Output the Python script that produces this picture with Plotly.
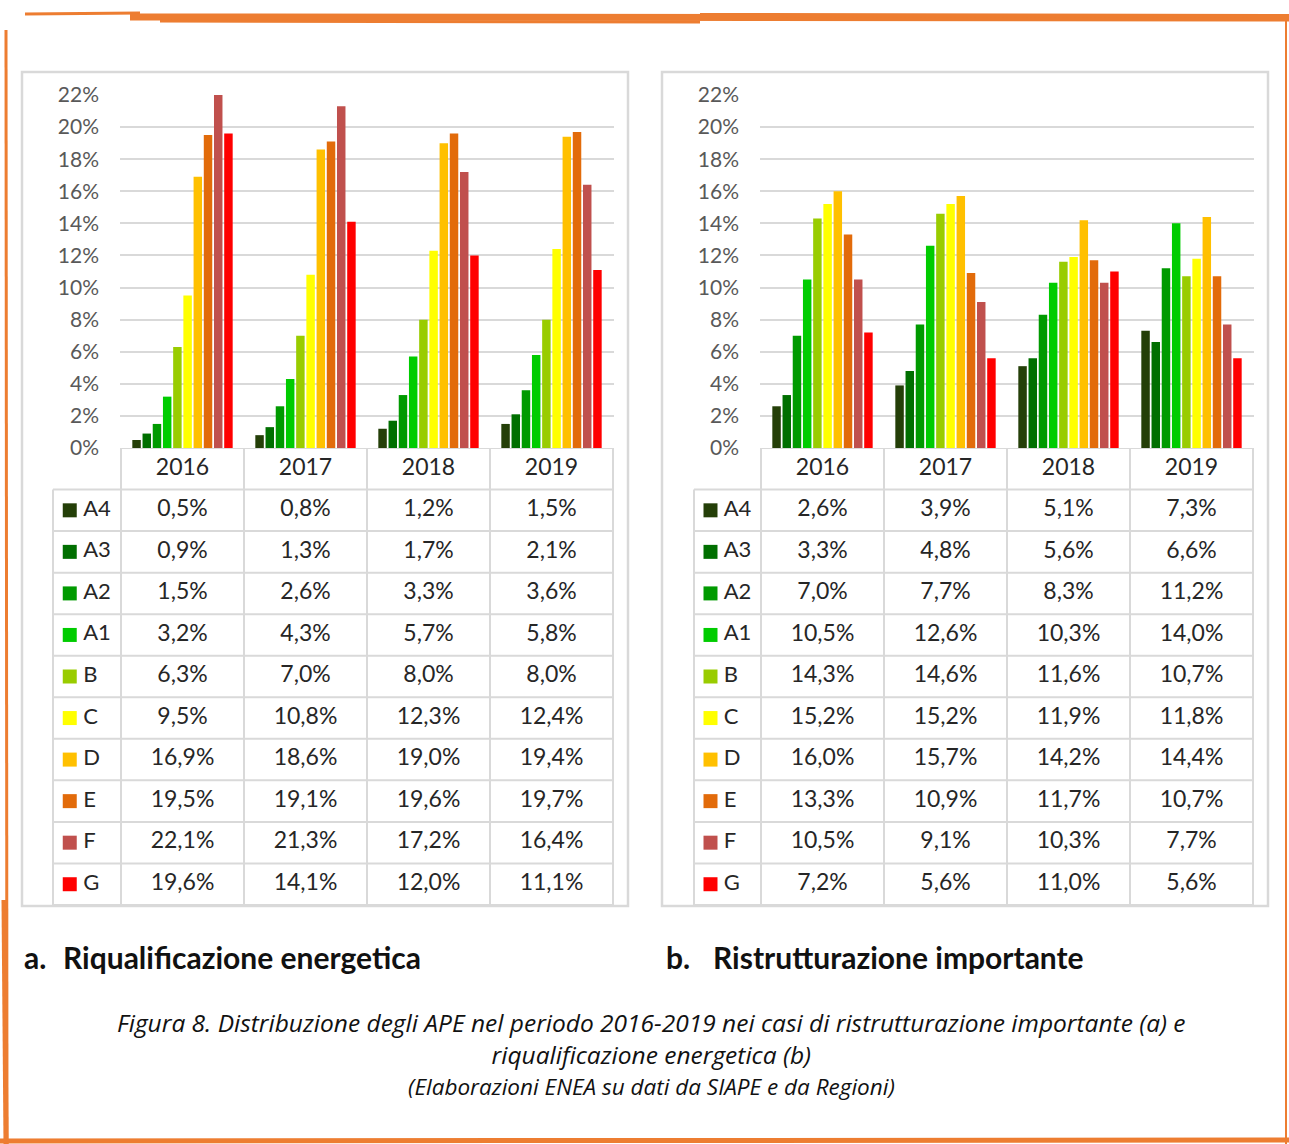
import plotly.graph_objects as go

# data
years = ["2016", "2017", "2018", "2019"]
classes = ["A4", "A3", "A2", "A1", "B", "C", "D", "E", "F", "G"]
class_colors = ["#243f08", "#006f00", "#009a00", "#00cc00", "#99cc00",
                "#ffff00", "#ffc000", "#e26b0a", "#c0504d", "#ff0000"]

# a. Riqualificazione energetica (rows = classes, cols = years)
riqualificazione = [
    [0.5, 0.8, 1.2, 1.5],
    [0.9, 1.3, 1.7, 2.1],
    [1.5, 2.6, 3.3, 3.6],
    [3.2, 4.3, 5.7, 5.8],
    [6.3, 7.0, 8.0, 8.0],
    [9.5, 10.8, 12.3, 12.4],
    [16.9, 18.6, 19.0, 19.4],
    [19.5, 19.1, 19.6, 19.7],
    [22.1, 21.3, 17.2, 16.4],
    [19.6, 14.1, 12.0, 11.1],
]

# b. Ristrutturazione importante
ristrutturazione = [
    [2.6, 3.9, 5.1, 7.3],
    [3.3, 4.8, 5.6, 6.6],
    [7.0, 7.7, 8.3, 11.2],
    [10.5, 12.6, 10.3, 14.0],
    [14.3, 14.6, 11.6, 10.7],
    [15.2, 15.2, 11.9, 11.8],
    [16.0, 15.7, 14.2, 14.4],
    [13.3, 10.9, 11.7, 10.7],
    [10.5, 9.1, 10.3, 7.7],
    [7.2, 5.6, 11.0, 5.6],
]

y_ticks = [0, 2, 4, 6, 8, 10, 12, 14, 16, 18, 20, 22]

W, H = 1289, 1144
FONT = "Lato"
GRID = "#d9d9d9"
ORANGE = "#ed7d31"
TXT = "#262626"


def px(x):
    return x / W


def py(y):
    return 1 - y / H


def fmt(v):
    return f"{v:.1f}".replace(".", ",") + "%"


fig = go.Figure()
shapes = []
annotations = []

# panel geometry (pixels): plot left/right, legend column left, outer box
panels = [
    dict(data=riqualificazione, ax="", left=120, right=614, leg=53, box=(22, 628), tax="3", lax="5"),
    dict(data=ristrutturazione, ax="2", left=760, right=1254, leg=694, box=(662, 1268), tax="4", lax="6"),
]

plot_top, plot_bot, table_bot = 95, 448, 905
n_rows = len(classes) + 1

for p in panels:
    xa = "x" + p["ax"]
    ya = "y" + p["ax"]
    ta = "y" + p["tax"]
    la = "x" + p["lax"]

    # bars
    for i, c in enumerate(classes):
        fig.add_trace(go.Bar(
            x=years, y=p["data"][i], name=c, marker_color=class_colors[i],
            marker_line_width=0, xaxis=xa, yaxis=ya, showlegend=False,
            hoverinfo="skip",
        ))

    # table header (years)
    fig.add_trace(go.Scatter(
        x=years, y=[0.5] * len(years), mode="text", text=years,
        textfont=dict(family=FONT, size=23, color=TXT),
        xaxis=xa, yaxis=ta, showlegend=False, hoverinfo="skip", cliponaxis=False,
    ))
    # table values
    for i, c in enumerate(classes):
        fig.add_trace(go.Scatter(
            x=years, y=[i + 1.5] * len(years), mode="text",
            text=[fmt(v) for v in p["data"][i]],
            textfont=dict(family=FONT, size=23, color=TXT),
            xaxis=xa, yaxis=ta, showlegend=False, hoverinfo="skip", cliponaxis=False,
        ))
    # legend column: colored keys + labels
    fig.add_trace(go.Scatter(
        x=[0.25] * len(classes), y=[i + 1.5 for i in range(len(classes))],
        mode="markers", marker=dict(symbol="square", size=14, color=class_colors, line_width=0),
        xaxis=la, yaxis=ta, showlegend=False, hoverinfo="skip", cliponaxis=False,
    ))
    fig.add_trace(go.Scatter(
        x=[0.45] * len(classes), y=[i + 1.5 for i in range(len(classes))],
        mode="text", text=classes, textposition="middle right",
        textfont=dict(family=FONT, size=22, color=TXT),
        xaxis=la, yaxis=ta, showlegend=False, hoverinfo="skip", cliponaxis=False,
    ))

    leg_dom = (p["leg"] - p["left"]) / (p["right"] - p["left"])
    # horizontal table lines
    for r in range(n_rows + 1):
        shapes.append(dict(type="line", xref=xa + " domain", yref=ta,
                           x0=0 if r == 0 else leg_dom, x1=1, y0=r, y1=r,
                           line=dict(color=GRID, width=2), layer="below"))
    # vertical table lines
    for k in range(len(years) + 1):
        shapes.append(dict(type="line", xref=xa, yref=ta, x0=k - 0.5, x1=k - 0.5,
                           y0=0, y1=n_rows, line=dict(color=GRID, width=2), layer="below"))
    shapes.append(dict(type="line", xref=xa + " domain", yref=ta, x0=leg_dom, x1=leg_dom,
                       y0=1, y1=n_rows, line=dict(color=GRID, width=2), layer="below"))
    # outer chart box
    shapes.append(dict(type="rect", xref="paper", yref="paper",
                       x0=px(p["box"][0]), x1=px(p["box"][1]), y0=py(906), y1=py(72),
                       line=dict(color=GRID, width=2.5), layer="below"))

    # axes
    fig.update_layout(**{
        ("xaxis" + p["ax"]): dict(domain=[px(p["left"]), px(p["right"])], anchor=ya,
                                   type="category", categoryarray=years,
                                   showticklabels=False, showgrid=False, zeroline=False,
                                   showline=False, ticks="", automargin=False),
        ("yaxis" + p["ax"]): dict(domain=[py(plot_bot), py(plot_top)], anchor=xa,
                                   range=[0, 22], tickvals=y_ticks,
                                   ticktext=[f"{t}%" for t in y_ticks],
                                   showgrid=True, gridcolor=GRID, gridwidth=2,
                                   zeroline=False, showline=False, ticks="",
                                   ticklabelstandoff=20, automargin=False,
                                   tickfont=dict(family=FONT, size=21, color="#595959")),
        ("yaxis" + p["tax"]): dict(domain=[py(table_bot), py(plot_bot)], anchor=xa,
                                    range=[n_rows, 0], showgrid=False, zeroline=False,
                                    showticklabels=False, showline=False, ticks="",
                                    automargin=False),
        ("xaxis" + p["lax"]): dict(domain=[px(p["leg"]), px(p["left"])], anchor=ta,
                                    range=[0, 1], showgrid=False, zeroline=False,
                                    showticklabels=False, showline=False, ticks="",
                                    automargin=False),
    })

# hand-drawn orange frame
frame = [
    (25, 14, 140, 13, 3), (130, 17, 1289, 18, 7), (160, 21, 700, 22, 3),
    (700, 15, 1289, 16, 4), (6, 30, 7, 1144, 3), (4, 900, 6, 1144, 5),
    (1286, 20, 1286, 1144, 2), (0, 1141, 1289, 1140, 5),
]
for x0, y0, x1, y1, w in frame:
    shapes.append(dict(type="line", xref="paper", yref="paper",
                       x0=px(x0), y0=py(y0), x1=px(x1), y1=py(y1),
                       line=dict(color=ORANGE, width=w)))

# captions
cap_font = dict(family=FONT, size=30, color="#111111", weight="bold")
for x, t in [(22, "a."), (61, "Riqualificazione energetica"),
             (664, "b."), (711, "Ristrutturazione importante")]:
    annotations.append(dict(x=px(x), y=py(957), xref="paper", yref="paper",
                            xanchor="left", yanchor="middle", text=t,
                            showarrow=False, font=cap_font))

CAP_FONT = "Open Sans"
for y, t, s in [
    (1038, "Figura 8. Distribuzione degli APE nel periodo 2016-2019 nei casi di ristrutturazione importante (a) e"
           "<br>riqualificazione energetica (b)", 24.5),
    (1086, "(Elaborazioni ENEA su dati da SIAPE e da Regioni)", 22.5),
]:
    annotations.append(dict(x=px(651), y=py(y), xref="paper", yref="paper",
                            xanchor="center", yanchor="middle", text="<i>" + t + "</i>",
                            showarrow=False,
                            font=dict(family=CAP_FONT, size=s, color="#111111", weight=400)))

fig.update_layout(
    width=W, height=H, margin=dict(l=0, r=0, t=0, b=0, autoexpand=False),
    paper_bgcolor="white", plot_bgcolor="rgba(0,0,0,0)",
    barmode="group", bargap=0.17, bargroupgap=0.17,
    shapes=shapes, annotations=annotations, showlegend=False,
)

fig.write_html("out.html", config={"displayModeBar": False},
               post_script="document.body.style.margin='0';")
